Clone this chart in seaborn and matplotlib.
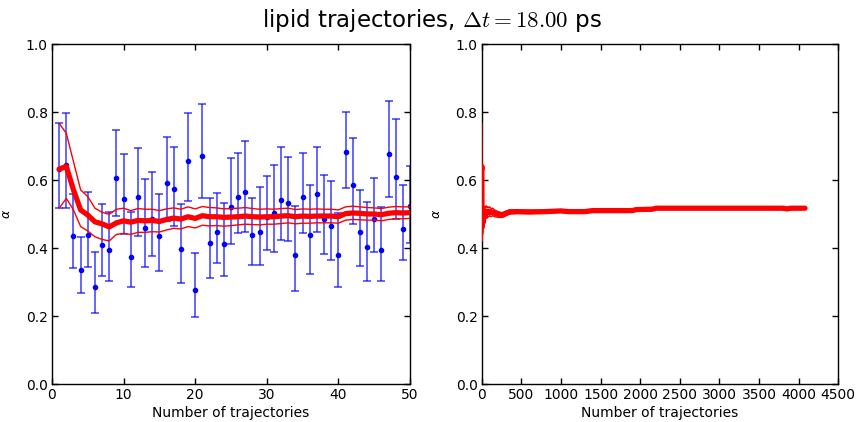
import numpy as np
import matplotlib
matplotlib.use("Agg")
import matplotlib.pyplot as plt
import seaborn as sns

# ---------------- data ----------------
n_traj = list(range(1, 51))

alpha_vals = [0.632, 0.644, 0.436, 0.336, 0.439, 0.286, 0.410, 0.394, 0.607, 0.544,
              0.375, 0.550, 0.458, 0.485, 0.436, 0.592, 0.574, 0.397, 0.656, 0.276,
              0.671, 0.415, 0.448, 0.412, 0.520, 0.550, 0.566, 0.439, 0.448, 0.490,
              0.502, 0.541, 0.532, 0.379, 0.550, 0.439, 0.560, 0.485, 0.466, 0.379,
              0.683, 0.584, 0.448, 0.403, 0.485, 0.394, 0.676, 0.610, 0.457, 0.525]
alpha_lo = [0.517, 0.517, 0.340, 0.267, 0.343, 0.208, 0.317, 0.303, 0.493, 0.440,
            0.286, 0.435, 0.343, 0.376, 0.333, 0.479, 0.465, 0.297, 0.539, 0.197,
            0.547, 0.312, 0.355, 0.317, 0.411, 0.445, 0.446, 0.349, 0.349, 0.393,
            0.387, 0.425, 0.420, 0.275, 0.445, 0.325, 0.447, 0.381, 0.364, 0.286,
            0.576, 0.472, 0.346, 0.303, 0.387, 0.303, 0.549, 0.484, 0.364, 0.416]
alpha_hi = [0.767, 0.798, 0.558, 0.432, 0.564, 0.387, 0.530, 0.507, 0.748, 0.676,
            0.506, 0.693, 0.604, 0.625, 0.558, 0.727, 0.696, 0.528, 0.798, 0.386,
            0.823, 0.546, 0.561, 0.531, 0.664, 0.680, 0.716, 0.546, 0.579, 0.613,
            0.643, 0.697, 0.669, 0.524, 0.679, 0.586, 0.697, 0.616, 0.598, 0.504,
            0.799, 0.724, 0.571, 0.534, 0.607, 0.520, 0.831, 0.778, 0.584, 0.641]

# running average and its band (red lines)
run_mean = [0.632, 0.640, 0.571, 0.512, 0.497, 0.477, 0.471, 0.462, 0.474, 0.480,
            0.476, 0.481, 0.480, 0.481, 0.478, 0.484, 0.488, 0.485, 0.492, 0.487,
            0.495, 0.492, 0.492, 0.490, 0.491, 0.492, 0.494, 0.492, 0.491, 0.492,
            0.492, 0.494, 0.495, 0.492, 0.494, 0.493, 0.494, 0.494, 0.494, 0.492,
            0.501, 0.503, 0.502, 0.500, 0.500, 0.498, 0.502, 0.504, 0.503, 0.504]
run_lo = [0.517, 0.546, 0.512, 0.463, 0.450, 0.433, 0.425, 0.421, 0.440, 0.443,
          0.440, 0.446, 0.446, 0.448, 0.447, 0.453, 0.458, 0.456, 0.463, 0.459,
          0.467, 0.465, 0.466, 0.464, 0.466, 0.468, 0.470, 0.469, 0.468, 0.470,
          0.470, 0.472, 0.474, 0.471, 0.473, 0.473, 0.474, 0.474, 0.474, 0.473,
          0.482, 0.484, 0.483, 0.482, 0.482, 0.480, 0.484, 0.486, 0.486, 0.487]
run_hi = [0.767, 0.737, 0.654, 0.571, 0.551, 0.517, 0.505, 0.499, 0.514, 0.517,
          0.510, 0.516, 0.514, 0.514, 0.510, 0.515, 0.518, 0.514, 0.521, 0.515,
          0.522, 0.519, 0.518, 0.515, 0.516, 0.517, 0.519, 0.516, 0.514, 0.515,
          0.514, 0.516, 0.517, 0.513, 0.515, 0.514, 0.515, 0.514, 0.514, 0.512,
          0.521, 0.523, 0.521, 0.519, 0.518, 0.516, 0.520, 0.522, 0.521, 0.521]

# continuation of the running average up to all trajectories (right panel)
ext_n = [60, 70, 80, 90, 100, 120, 140, 160, 190, 220, 260, 300, 350, 450, 600,
         800, 1000, 1100, 1300, 1400, 1900, 1950, 2150, 2200, 3800, 3850, 3900, 4080]
ext_mean = [0.508, 0.503, 0.507, 0.505, 0.508, 0.504, 0.506, 0.502, 0.500, 0.498,
            0.497, 0.501, 0.506, 0.507, 0.506, 0.507, 0.509, 0.507, 0.507, 0.510,
            0.510, 0.513, 0.514, 0.517, 0.517, 0.515, 0.517, 0.517]
ext_lo = [0.492, 0.488, 0.493, 0.492, 0.495, 0.492, 0.495, 0.492, 0.491, 0.490,
          0.490, 0.494, 0.500, 0.502, 0.501, 0.503, 0.505, 0.503, 0.503, 0.506,
          0.507, 0.510, 0.511, 0.514, 0.515, 0.513, 0.515, 0.515]
ext_hi = [0.524, 0.518, 0.521, 0.518, 0.521, 0.516, 0.517, 0.512, 0.509, 0.506,
          0.504, 0.508, 0.512, 0.512, 0.511, 0.511, 0.513, 0.511, 0.511, 0.513,
          0.513, 0.516, 0.517, 0.520, 0.519, 0.517, 0.519, 0.519]

left_xticks = [0, 10, 20, 30, 40, 50]
right_xticks = [0, 500, 1000, 1500, 2000, 2500, 3000, 3500, 4000, 4500]
yticks = [0.0, 0.2, 0.4, 0.6, 0.8, 1.0]

# ---------------- style ----------------
sns.set_style("ticks")
plt.rcParams.update({
    "font.family": ["DejaVu Sans"],
    "axes.edgecolor": "black",
    "axes.linewidth": 1.0,
    "text.color": "black",
    "axes.labelcolor": "black",
    "xtick.color": "black",
    "ytick.color": "black",
})

fig = plt.figure(figsize=(8.56, 4.22), dpi=100)
ax1 = fig.add_axes([52 / 856, 1 - 384 / 422, 358 / 856, 340 / 422])
ax2 = fig.add_axes([481.7 / 856, 1 - 384 / 422, 356.6 / 856, 340 / 422])

# left panel: individual estimates with error bars
y = np.array(alpha_vals)
yerr = [y - np.array(alpha_lo), np.array(alpha_hi) - y]
ax1.errorbar(n_traj, alpha_vals, yerr=yerr, fmt="o", color="blue", ms=3.0,
             ecolor=(0, 0, 1, 0.7), elinewidth=1.2, capsize=3, capthick=1.2,
             zorder=2)
sns.lineplot(x=n_traj, y=run_mean, color="red", lw=3.8, ax=ax1, zorder=3)
sns.lineplot(x=n_traj, y=run_lo, color="red", lw=1.0, ax=ax1, zorder=3)
sns.lineplot(x=n_traj, y=run_hi, color="red", lw=1.0, ax=ax1, zorder=3)

# right panel: running average over all trajectories
full_n = n_traj + ext_n
sns.lineplot(x=full_n, y=run_lo + ext_lo, color="red", lw=1.0, ax=ax2, zorder=3)
sns.lineplot(x=full_n, y=run_hi + ext_hi, color="red", lw=1.0, ax=ax2, zorder=3)
sns.lineplot(x=full_n, y=run_mean + ext_mean, color="red", lw=3.8, ax=ax2, zorder=3)

for ax, xt, xmax in ((ax1, left_xticks, 50), (ax2, right_xticks, 4500)):
    ax.set_xlim(0, xmax)
    ax.set_ylim(0, 1)
    ax.set_xticks(xt)
    ax.set_yticks(yticks)
    ax.set_yticklabels([f"{v:.1f}" for v in yticks])
    ax.tick_params(direction="in", top=True, right=True, length=4, width=1,
                   labelsize=10, pad=3)
    for s in ax.spines.values():
        s.set_visible(True)
        s.set_color("black")
        s.set_linewidth(1.0)
    ax.set_xlabel("Number of trajectories", fontsize=10, labelpad=3)
    ax.set_ylabel(r"$\alpha$", fontsize=9, labelpad=9)

fig.text(0.505, 0.952, r"lipid trajectories, $\Delta t = 18.00$ ps",
         ha="center", va="center", fontsize=16.5, math_fontfamily="cm")

fig.savefig("out.png", dpi=100)
